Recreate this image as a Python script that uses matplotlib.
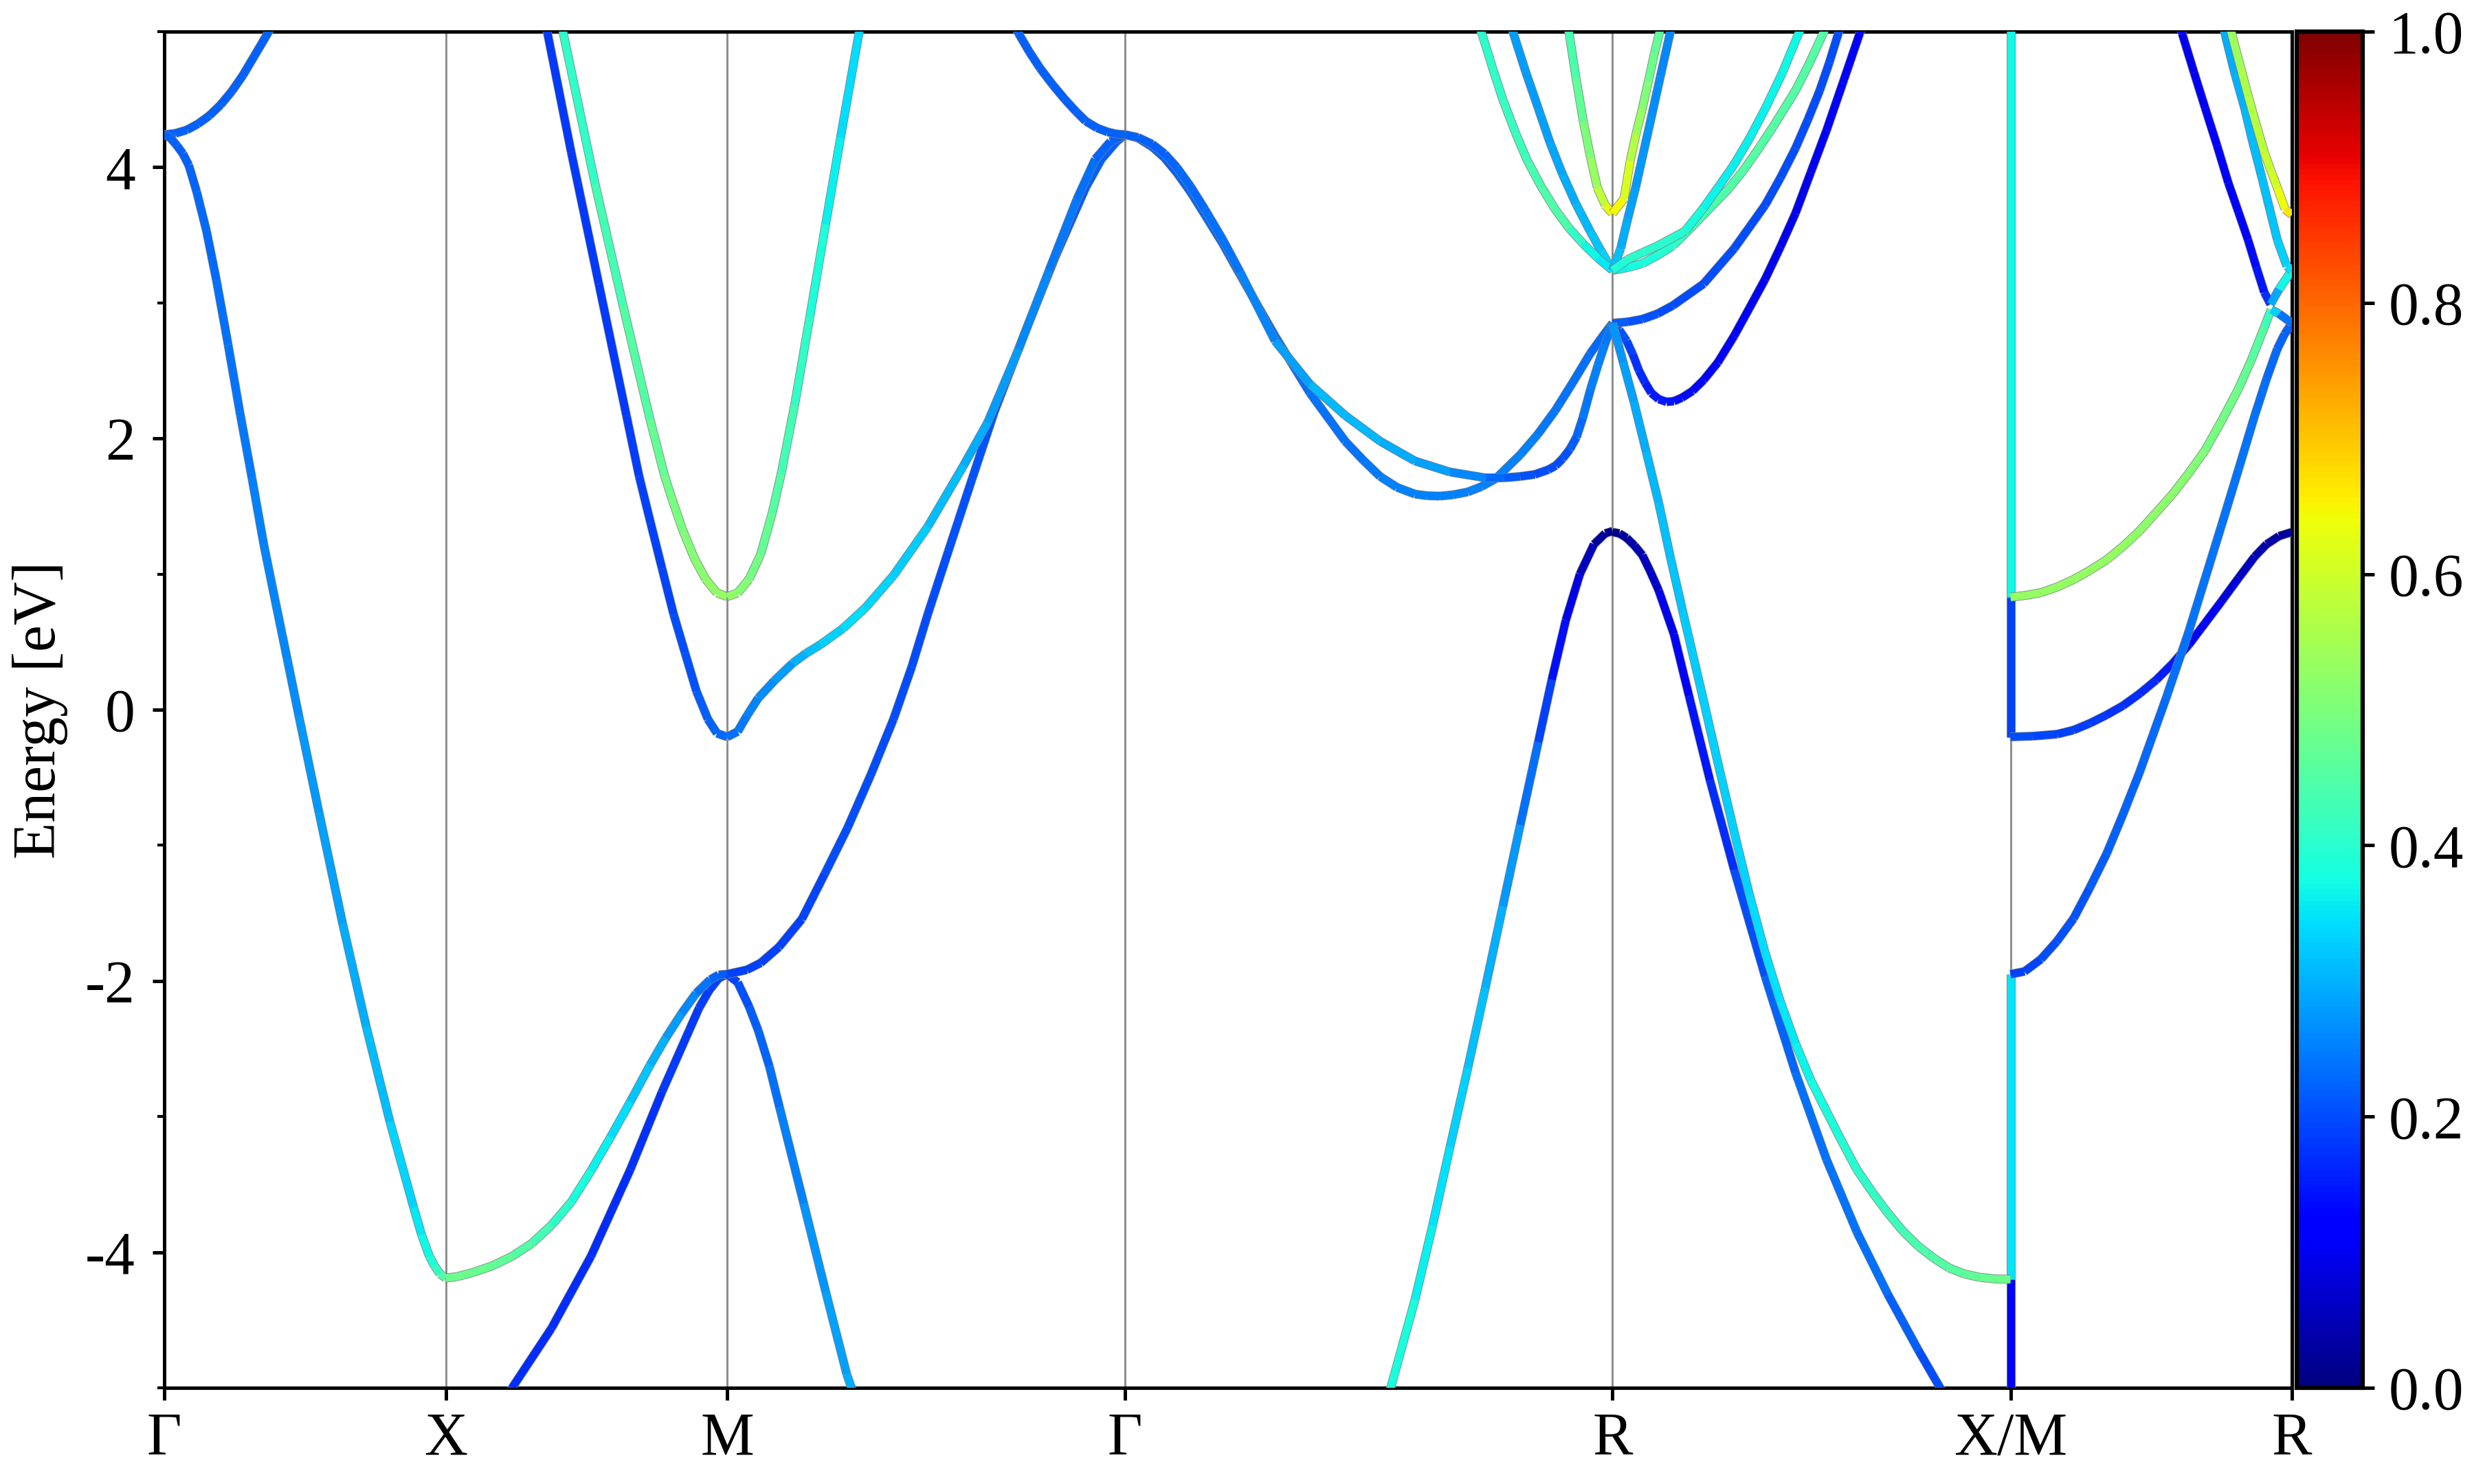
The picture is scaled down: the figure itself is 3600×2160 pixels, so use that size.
import numpy as np
import matplotlib
matplotlib.use("Agg")
import matplotlib.pyplot as plt
from matplotlib.collections import LineCollection
from matplotlib.ticker import MultipleLocator
import matplotlib.patheffects as pe
from matplotlib.cm import ScalarMappable
from matplotlib.colors import Normalize

plt.rcParams['font.family'] = ['Liberation Serif', 'DejaVu Serif']
plt.rcParams['axes.unicode_minus'] = False

# ---------------- high-symmetry path ----------------
node_k = [0.0, 0.5, 1.0, 1.707, 2.573, 3.280, 3.780]
node_labels = ['Γ', 'X', 'M', 'Γ', 'R', 'X/M', 'R']

# ---------------- bands: path coordinate k, energy E [eV], weight w ----------------
# Γ-X
gx_up_k = [0.0, 0.02, 0.04, 0.06, 0.08, 0.10, 0.12, 0.14, 0.16, 0.18, 0.20]
gx_up_E = [4.24, 4.25, 4.275, 4.32, 4.38, 4.46, 4.56, 4.68, 4.82, 4.96, 5.11]
gx_up_w = [0.22, 0.22, 0.22, 0.22, 0.22, 0.22, 0.22, 0.22, 0.22, 0.22, 0.22]

gx_dn_k = [0.0, 0.01, 0.0225, 0.033, 0.0435, 0.0575, 0.075, 0.0925, 0.1135, 0.134, 0.1557,
           0.1767, 0.1978, 0.2186, 0.2393, 0.275, 0.317, 0.359, 0.401, 0.443, 0.457,
           0.471, 0.48, 0.49, 0.5]
gx_dn_E = [4.24, 4.22, 4.16, 4.10, 4.015, 3.82, 3.53, 3.17, 2.69, 2.20, 1.71,
           1.22, 0.79, 0.37, -0.05, -0.76, -1.58, -2.34, -3.04, -3.67, -3.87,
           -4.03, -4.10, -4.16, -4.19]
gx_dn_w = [0.22, 0.22, 0.22, 0.22, 0.22, 0.23, 0.23, 0.23, 0.24, 0.24, 0.25,
           0.25, 0.26, 0.26, 0.27, 0.28, 0.29, 0.30, 0.32, 0.35, 0.36,
           0.38, 0.40, 0.43, 0.47]

# X-M
xm_D_k = [0.675, 0.681, 0.723, 0.772, 0.821, 0.8437, 0.864, 0.8844, 0.9048, 0.9251,
          0.9454, 0.9658, 0.982, 1.0]
xm_D_E = [5.11, 4.985, 4.11, 3.14, 2.17, 1.72, 1.378, 1.04, 0.705, 0.42,
          0.137, -0.07, -0.174, -0.2]
xm_D_w = [0.18, 0.18, 0.18, 0.18, 0.18, 0.19, 0.19, 0.19, 0.20, 0.20,
          0.21, 0.22, 0.23, 0.23]

xm_C_k = [0.70, 0.709, 0.765, 0.815, 0.863, 0.8885, 0.9007, 0.921, 0.9414, 0.9617, 0.982, 1.0]
xm_C_E = [5.2, 4.985, 3.885, 2.98, 2.14, 1.73, 1.57, 1.325, 1.12, 0.963, 0.861, 0.834]
xm_C_w = [0.40, 0.40, 0.42, 0.44, 0.46, 0.48, 0.49, 0.50, 0.51, 0.52, 0.53, 0.53]

xm_E_k = [0.5, 0.52, 0.548, 0.583, 0.618, 0.653, 0.688, 0.723, 0.758, 0.793, 0.828,
          0.863, 0.891, 0.919, 0.945, 0.97, 0.985, 1.0]
xm_E_E = [-4.19, -4.18, -4.15, -4.10, -4.03, -3.935, -3.80, -3.63, -3.40, -3.15, -2.89,
          -2.62, -2.42, -2.24, -2.09, -1.99, -1.955, -1.95]
xm_E_w = [0.48, 0.48, 0.48, 0.47, 0.46, 0.44, 0.42, 0.39, 0.37, 0.35, 0.33,
          0.31, 0.29, 0.27, 0.25, 0.23, 0.22, 0.21]

xm_F_k = [0.605, 0.618, 0.688, 0.758, 0.828, 0.884, 0.933, 0.95, 0.968, 0.985, 1.0]
xm_F_E = [-5.1, -5.0, -4.56, -4.03, -3.39, -2.82, -2.36, -2.20, -2.07, -1.98, -1.95]
xm_F_w = [0.17, 0.17, 0.17, 0.17, 0.17, 0.18, 0.18, 0.18, 0.19, 0.19, 0.19]

# M-Γ
mg_C_k = [1.0, 1.0187, 1.039, 1.0595, 1.08, 1.096, 1.12, 1.147, 1.175, 1.2015, 1.234, 1.245]
mg_C_E = [0.834, 0.861, 0.963, 1.145, 1.45, 1.74, 2.25, 2.90, 3.58, 4.22, 4.985, 5.24]
mg_C_w = [0.53, 0.52, 0.50, 0.48, 0.46, 0.44, 0.42, 0.40, 0.37, 0.35, 0.33, 0.33]

mg_D_k = [1.0, 1.0187, 1.035, 1.0553, 1.0839, 1.1164, 1.14, 1.165, 1.206, 1.2466, 1.2955,
          1.3565, 1.42, 1.463, 1.518, 1.572, 1.621, 1.654, 1.681, 1.707]
mg_D_E = [-0.2, -0.161, -0.045, 0.086, 0.214, 0.343, 0.415, 0.478, 0.60, 0.756, 0.99,
          1.35, 1.80, 2.12, 2.66, 3.24, 3.76, 4.06, 4.19, 4.24]
mg_D_w = [0.23, 0.24, 0.25, 0.26, 0.27, 0.29, 0.31, 0.32, 0.34, 0.34, 0.33,
          0.32, 0.30, 0.29, 0.27, 0.25, 0.24, 0.23, 0.22, 0.22]

mg_G_k = [1.0, 1.035, 1.0595, 1.092, 1.1327, 1.1734, 1.214, 1.2548, 1.2955, 1.328,
          1.3565, 1.393, 1.435, 1.475, 1.529, 1.583, 1.637, 1.665, 1.692, 1.707]
mg_G_E = [-1.95, -1.918, -1.867, -1.75, -1.544, -1.21, -0.87, -0.484, -0.07, 0.317,
          0.705, 1.17, 1.70, 2.20, 2.78, 3.34, 3.85, 4.06, 4.19, 4.24]
mg_G_w = [0.19, 0.19, 0.19, 0.19, 0.19, 0.20, 0.20, 0.20, 0.20, 0.20,
          0.20, 0.20, 0.21, 0.21, 0.21, 0.21, 0.22, 0.22, 0.22, 0.22]

mg_H_k = [1.0, 1.0187, 1.039, 1.0553, 1.075, 1.093, 1.136, 1.175, 1.2125, 1.221, 1.23]
mg_H_E = [-1.95, -2.01, -2.19, -2.366, -2.63, -2.93, -3.64, -4.29, -4.90, -5.0, -5.15]
mg_H_w = [0.19, 0.20, 0.21, 0.22, 0.23, 0.24, 0.26, 0.28, 0.29, 0.30, 0.30]

mg_T_k = [1.505, 1.518, 1.537, 1.556, 1.578, 1.60, 1.62, 1.637, 1.657, 1.676, 1.692, 1.707]
mg_T_E = [5.1, 4.985, 4.85, 4.73, 4.61, 4.50, 4.41, 4.34, 4.29, 4.26, 4.245, 4.24]
mg_T_w = [0.22, 0.22, 0.22, 0.22, 0.22, 0.22, 0.22, 0.22, 0.22, 0.22, 0.22, 0.22]

# Γ-R
gr_1_k = [1.707, 1.73, 1.7552, 1.777, 1.7988, 1.823, 1.8487, 1.88, 1.911, 1.9733, 2.0355,
          2.098, 2.13, 2.16, 2.19, 2.222, 2.244, 2.266, 2.29, 2.316, 2.34, 2.3656,
          2.409, 2.44, 2.471, 2.502, 2.533, 2.553, 2.573]
gr_1_E = [4.24, 4.215, 4.15, 4.07, 3.96, 3.82, 3.65, 3.44, 3.21, 2.756, 2.335,
          1.98, 1.84, 1.72, 1.64, 1.59, 1.578, 1.575, 1.585, 1.606, 1.645, 1.704,
          1.88, 2.03, 2.205, 2.41, 2.624, 2.74, 2.85]
gr_1_w = [0.22, 0.22, 0.22, 0.22, 0.22, 0.23, 0.23, 0.23, 0.23, 0.23, 0.24,
          0.24, 0.24, 0.25, 0.25, 0.25, 0.25, 0.25, 0.25, 0.25, 0.25, 0.25,
          0.25, 0.25, 0.24, 0.24, 0.23, 0.23, 0.23]

gr_2_k = [1.707, 1.73, 1.7552, 1.777, 1.7988, 1.823, 1.8487, 1.88, 1.911, 1.9733, 2.0355,
          2.098, 2.16, 2.222, 2.284, 2.347, 2.38, 2.409, 2.435, 2.459, 2.472, 2.484,
          2.497, 2.509, 2.52, 2.534, 2.547, 2.559, 2.573]
gr_2_E = [4.24, 4.22, 4.17, 4.10, 4.0, 3.86, 3.69, 3.47, 3.23, 2.72, 2.40,
          2.17, 1.98, 1.834, 1.753, 1.71, 1.71, 1.72, 1.735, 1.77, 1.80, 1.85,
          1.92, 2.01, 2.15, 2.365, 2.54, 2.69, 2.85]
gr_2_w = [0.22, 0.22, 0.22, 0.22, 0.23, 0.23, 0.23, 0.24, 0.24, 0.27, 0.30,
          0.31, 0.30, 0.29, 0.28, 0.24, 0.22, 0.21, 0.20, 0.20, 0.20, 0.20,
          0.21, 0.22, 0.24, 0.25, 0.25, 0.25, 0.24]

gr_Q_k = [2.17, 2.1789, 2.222, 2.2535, 2.2845, 2.316, 2.347, 2.378, 2.409, 2.441,
          2.465, 2.49, 2.515, 2.54, 2.56, 2.573]
gr_Q_E = [-5.12, -5.0, -4.35, -3.8, -3.22, -2.64, -2.05, -1.45, -0.85, -0.24,
          0.22, 0.66, 1.0, 1.22, 1.30, 1.317]
gr_Q_w = [0.39, 0.39, 0.37, 0.35, 0.34, 0.32, 0.31, 0.29, 0.26, 0.21,
          0.17, 0.11, 0.07, 0.04, 0.02, 0.01]

gr_S1_k = [2.33, 2.341, 2.36, 2.378, 2.40, 2.4215, 2.446, 2.471, 2.496, 2.521, 2.547, 2.573]
gr_S1_E = [5.1, 4.985, 4.73, 4.50, 4.26, 4.05, 3.86, 3.69, 3.55, 3.435, 3.33, 3.24]
gr_S1_w = [0.40, 0.40, 0.41, 0.41, 0.42, 0.43, 0.44, 0.45, 0.44, 0.38, 0.36, 0.35]

gr_S2_k = [2.388, 2.397, 2.419, 2.441, 2.462, 2.484, 2.508, 2.533, 2.553, 2.573]
gr_S2_E = [5.1, 4.985, 4.70, 4.435, 4.18, 3.95, 3.73, 3.53, 3.38, 3.24]
gr_S2_w = [0.28, 0.28, 0.28, 0.28, 0.29, 0.29, 0.30, 0.31, 0.33, 0.34]

gr_S3_k = [2.49, 2.496, 2.508, 2.521, 2.534, 2.546, 2.56, 2.573]
gr_S3_E = [5.1, 4.985, 4.66, 4.34, 4.07, 3.85, 3.72, 3.66]
gr_S3_w = [0.43, 0.43, 0.45, 0.48, 0.52, 0.55, 0.61, 0.65]

# R-X
rx_S3_k = [2.573, 2.5935, 2.6045, 2.615, 2.626, 2.637, 2.648, 2.656, 2.662]
rx_S3_E = [3.66, 3.77, 4.05, 4.25, 4.435, 4.64, 4.85, 4.985, 5.1]
rx_S3_w = [0.65, 0.64, 0.58, 0.55, 0.52, 0.49, 0.47, 0.46, 0.46]

rx_S2_k = [2.573, 2.5874, 2.60, 2.614, 2.628, 2.642, 2.658, 2.675, 2.685]
rx_S2_E = [3.24, 3.40, 3.62, 3.85, 4.11, 4.37, 4.67, 4.985, 5.17]
rx_S2_w = [0.33, 0.30, 0.29, 0.28, 0.27, 0.27, 0.26, 0.26, 0.26]

rx_U1_k = [2.573, 2.6, 2.626, 2.653, 2.68, 2.702, 2.7346, 2.762, 2.789, 2.816, 2.844,
           2.874, 2.9035, 2.913]
rx_U1_E = [3.24, 3.32, 3.37, 3.42, 3.48, 3.53, 3.70, 3.86, 4.02, 4.21, 4.43,
           4.69, 4.985, 5.08]
rx_U1_w = [0.38, 0.40, 0.40, 0.40, 0.40, 0.39, 0.37, 0.36, 0.36, 0.36, 0.36,
           0.37, 0.37, 0.37]

rx_U2_k = [2.573, 2.6, 2.626, 2.653, 2.68, 2.702, 2.751, 2.779, 2.806, 2.833, 2.86,
           2.898, 2.922, 2.947, 2.955]
rx_U2_E = [3.24, 3.26, 3.29, 3.35, 3.42, 3.51, 3.72, 3.84, 3.98, 4.14, 4.31,
           4.565, 4.76, 4.985, 5.06]
rx_U2_w = [0.36, 0.37, 0.38, 0.39, 0.40, 0.42, 0.44, 0.45, 0.45, 0.45, 0.45,
           0.45, 0.45, 0.45, 0.45]

rx_T_k = [2.573, 2.6, 2.626, 2.653, 2.68, 2.7346, 2.789, 2.844, 2.871, 2.898, 2.92,
          2.941, 2.958, 2.974, 2.984]
rx_T_E = [2.85, 2.86, 2.88, 2.92, 2.98, 3.14, 3.40, 3.72, 3.92, 4.14, 4.35,
          4.565, 4.77, 4.985, 5.12]
rx_T_w = [0.22, 0.21, 0.21, 0.20, 0.20, 0.20, 0.20, 0.20, 0.20, 0.20, 0.20,
          0.20, 0.20, 0.20, 0.20]

rx_U_k = [2.573, 2.585, 2.598, 2.609, 2.62, 2.631, 2.642, 2.655, 2.669, 2.682, 2.696,
          2.715, 2.7346, 2.76, 2.789, 2.816, 2.844, 2.871, 2.898, 2.925, 2.953, 2.982,
          3.012, 3.02]
rx_U_E = [2.85, 2.80, 2.72, 2.62, 2.50, 2.41, 2.335, 2.29, 2.27, 2.275, 2.30,
          2.35, 2.43, 2.56, 2.756, 2.96, 3.174, 3.41, 3.66, 3.96, 4.27, 4.62,
          4.985, 5.08]
rx_U_w = [0.22, 0.21, 0.20, 0.18, 0.17, 0.16, 0.15, 0.15, 0.15, 0.14, 0.14,
          0.13, 0.13, 0.12, 0.12, 0.11, 0.10, 0.10, 0.10, 0.10, 0.11, 0.12,
          0.13, 0.13]

rx_V_k = [2.573, 2.592, 2.611, 2.633, 2.655, 2.676, 2.698, 2.729, 2.759, 2.789, 2.816,
          2.844, 2.871, 2.898, 2.925, 2.953, 2.98, 3.007, 3.035, 3.062, 3.089, 3.116,
          3.144, 3.171, 3.198, 3.225, 3.253, 3.28]
rx_V_E = [2.85, 2.56, 2.27, 1.90, 1.526, 1.12, 0.72, 0.17, -0.37, -0.9, -1.36,
          -1.79, -2.15, -2.46, -2.73, -2.96, -3.18, -3.39, -3.56, -3.71, -3.845, -3.955,
          -4.045, -4.116, -4.16, -4.185, -4.197, -4.20]
rx_V_w = [0.26, 0.28, 0.29, 0.30, 0.31, 0.32, 0.32, 0.33, 0.33, 0.33, 0.34,
          0.34, 0.35, 0.36, 0.37, 0.38, 0.39, 0.40, 0.41, 0.42, 0.43, 0.44,
          0.45, 0.45, 0.46, 0.47, 0.48, 0.48]

rx_W_k = [2.573, 2.585, 2.598, 2.612, 2.626, 2.64, 2.655, 2.682, 2.709, 2.746, 2.789,
          2.844, 2.898, 2.953, 3.007, 3.062, 3.116, 3.155, 3.17]
rx_W_E = [1.31, 1.30, 1.267, 1.21, 1.14, 1.02, 0.88, 0.557, 0.10, -0.52, -1.18,
          -1.965, -2.675, -3.315, -3.85, -4.31, -4.72, -5.0, -5.1]
rx_W_w = [0.01, 0.02, 0.03, 0.04, 0.05, 0.06, 0.08, 0.11, 0.13, 0.16, 0.18,
          0.22, 0.23, 0.24, 0.24, 0.23, 0.21, 0.19, 0.19]

# jump at X/M (band index continuity)
xmv_1_k = [3.28, 3.28]; xmv_1_E = [-5.3, -4.2]; xmv_1_w = [0.13, 0.13]
xmv_2_k = [3.28, 3.28]; xmv_2_E = [-4.2, -1.95]; xmv_2_w = [0.35, 0.35]
xmv_3_k = [3.28, 3.28]; xmv_3_E = [-0.2, 0.83]; xmv_3_w = [0.19, 0.19]
xmv_4_k = [3.28, 3.28]; xmv_4_E = [0.83, 5.3]; xmv_4_w = [0.37, 0.37]

# M-R
mr_C_k = [3.28, 3.307, 3.334, 3.363, 3.392, 3.42, 3.451, 3.48, 3.509, 3.538, 3.568,
          3.597, 3.626, 3.655, 3.685, 3.708, 3.731, 3.743, 3.757, 3.78]
mr_C_E = [0.83, 0.843, 0.863, 0.905, 0.96, 1.025, 1.106, 1.205, 1.317, 1.45, 1.59,
          1.745, 1.915, 2.13, 2.366, 2.58, 2.82, 2.95, 2.92, 2.85]
mr_C_w = [0.53, 0.53, 0.53, 0.53, 0.53, 0.53, 0.53, 0.53, 0.52, 0.52, 0.52,
          0.51, 0.50, 0.49, 0.48, 0.46, 0.45, 0.40, 0.26, 0.22]

mr_M4_k = [3.575, 3.585, 3.606, 3.626, 3.647, 3.667, 3.685, 3.702, 3.717, 3.731, 3.742, 3.757, 3.78]
mr_M4_E = [5.2, 4.985, 4.70, 4.435, 4.16, 3.885, 3.67, 3.465, 3.26, 3.077, 2.99, 3.10, 3.24]
mr_M4_w = [0.10, 0.10, 0.10, 0.11, 0.11, 0.12, 0.12, 0.13, 0.14, 0.15, 0.20, 0.38, 0.36]

mr_M5_k = [3.655, 3.661, 3.678, 3.696, 3.71, 3.725, 3.74, 3.754, 3.771, 3.78]
mr_M5_E = [5.1, 4.985, 4.70, 4.435, 4.19, 3.95, 3.70, 3.465, 3.27, 3.24]
mr_M5_w = [0.29, 0.29, 0.30, 0.30, 0.31, 0.31, 0.32, 0.32, 0.34, 0.35]

mr_M6_k = [3.667, 3.673, 3.688, 3.702, 3.717, 3.731, 3.743, 3.754, 3.768, 3.78]
mr_M6_E = [5.1, 4.985, 4.75, 4.53, 4.31, 4.11, 3.97, 3.85, 3.69, 3.65]
mr_M6_w = [0.53, 0.53, 0.55, 0.56, 0.57, 0.58, 0.60, 0.61, 0.66, 0.67]

mr_M2_k = [3.28, 3.305, 3.334, 3.362, 3.392, 3.42, 3.451, 3.48, 3.509, 3.556, 3.597,
           3.626, 3.655, 3.685, 3.714, 3.735, 3.754, 3.767, 3.78]
mr_M2_E = [-1.95, -1.93, -1.84, -1.71, -1.54, -1.32, -1.06, -0.77, -0.465, 0.08, 0.58,
           0.97, 1.36, 1.77, 2.17, 2.44, 2.66, 2.77, 2.85]
mr_M2_w = [0.19, 0.19, 0.20, 0.20, 0.21, 0.21, 0.22, 0.22, 0.23, 0.23, 0.24,
           0.24, 0.24, 0.24, 0.24, 0.23, 0.23, 0.22, 0.22]

mr_M1_k = [3.28, 3.32, 3.363, 3.392, 3.421, 3.45, 3.48, 3.51, 3.539, 3.568, 3.597,
           3.626, 3.655, 3.685, 3.714, 3.735, 3.757, 3.78]
mr_M1_E = [-0.2, -0.195, -0.18, -0.15, -0.10, -0.04, 0.03, 0.12, 0.22, 0.34, 0.48,
           0.64, 0.80, 0.97, 1.13, 1.22, 1.28, 1.31]
mr_M1_w = [0.20, 0.20, 0.19, 0.19, 0.18, 0.18, 0.17, 0.17, 0.16, 0.15, 0.14,
           0.12, 0.10, 0.07, 0.05, 0.04, 0.03, 0.02]

bands = [
    (xmv_1_k, xmv_1_E, xmv_1_w), (xmv_2_k, xmv_2_E, xmv_2_w),
    (xmv_3_k, xmv_3_E, xmv_3_w), (xmv_4_k, xmv_4_E, xmv_4_w),
    (gx_up_k, gx_up_E, gx_up_w), (gx_dn_k, gx_dn_E, gx_dn_w),
    (xm_F_k, xm_F_E, xm_F_w), (xm_D_k, xm_D_E, xm_D_w),
    (xm_E_k, xm_E_E, xm_E_w), (xm_C_k, xm_C_E, xm_C_w),
    (mg_H_k, mg_H_E, mg_H_w), (mg_G_k, mg_G_E, mg_G_w),
    (mg_D_k, mg_D_E, mg_D_w), (mg_C_k, mg_C_E, mg_C_w), (mg_T_k, mg_T_E, mg_T_w),
    (gr_1_k, gr_1_E, gr_1_w), (gr_2_k, gr_2_E, gr_2_w), (gr_Q_k, gr_Q_E, gr_Q_w),
    (gr_S2_k, gr_S2_E, gr_S2_w), (gr_S1_k, gr_S1_E, gr_S1_w), (gr_S3_k, gr_S3_E, gr_S3_w),
    (rx_W_k, rx_W_E, rx_W_w), (rx_U_k, rx_U_E, rx_U_w), (rx_T_k, rx_T_E, rx_T_w),
    (rx_V_k, rx_V_E, rx_V_w), (rx_S2_k, rx_S2_E, rx_S2_w),
    (rx_U2_k, rx_U2_E, rx_U2_w), (rx_U1_k, rx_U1_E, rx_U1_w), (rx_S3_k, rx_S3_E, rx_S3_w),
    (mr_M1_k, mr_M1_E, mr_M1_w), (mr_M2_k, mr_M2_E, mr_M2_w), (mr_C_k, mr_C_E, mr_C_w),
    (mr_M4_k, mr_M4_E, mr_M4_w), (mr_M5_k, mr_M5_E, mr_M5_w), (mr_M6_k, mr_M6_E, mr_M6_w),
]

# ---------------- figure ----------------
fig = plt.figure(figsize=(12, 7.2), dpi=300)
ax = fig.add_axes([0.0664, 0.0648, 0.8600, 0.9139])
cmap = plt.get_cmap('jet')
norm = Normalize(vmin=0.0, vmax=1.0)

for xk in node_k[1:-1]:
    ax.axvline(xk, color='#8c8c8c', lw=0.7, zorder=1)

for k, E, w in bands:
    pts = np.column_stack([k, E])
    segs = np.stack([pts[:-1], pts[1:]], axis=1)
    wa = np.asarray(w, dtype=float)
    lc = LineCollection(segs, cmap=cmap, norm=norm, linewidths=2.7,
                        capstyle='butt', joinstyle='miter', zorder=3)
    lc.set_array(0.5 * (wa[:-1] + wa[1:]))
    lc.set_path_effects([pe.Stroke(linewidth=3.1, foreground='#808080'), pe.Normal()])
    ax.add_collection(lc)

ax.set_xlim(node_k[0], node_k[-1])
ax.set_ylim(-5, 5)
ax.set_xticks(node_k)
ax.set_xticklabels(node_labels)
ax.yaxis.set_minor_locator(MultipleLocator(1))
ax.set_yticks([-4, -2, 0, 2, 4])
ax.set_yticklabels(['-4', '-2', '0', '2', '4'])
ax.tick_params(axis='both', which='major', direction='out', length=4.2, width=1.2,
               labelsize=21, top=False, right=False)
ax.tick_params(axis='y', which='major', pad=6)
ax.tick_params(axis='x', which='major', pad=4)
ax.tick_params(axis='y', which='minor', direction='out', length=2.4, width=1.0, right=False)
ax.set_ylabel('Energy [eV]', fontsize=21, labelpad=6)
for s in ax.spines.values():
    s.set_linewidth(1.2)

cax = fig.add_axes([0.9283, 0.0648, 0.0267, 0.9139])
cb = fig.colorbar(ScalarMappable(norm=norm, cmap=cmap), cax=cax)
cb.set_ticks([0.0, 0.2, 0.4, 0.6, 0.8, 1.0])
cb.set_ticklabels(['0.0', '0.2', '0.4', '0.6', '0.8', '1.0'])
cb.ax.tick_params(labelsize=21, length=4.0, width=1.2, direction='out', pad=5)
cb.outline.set_linewidth(1.5)

fig.savefig('out.png', dpi=300, facecolor='white')
